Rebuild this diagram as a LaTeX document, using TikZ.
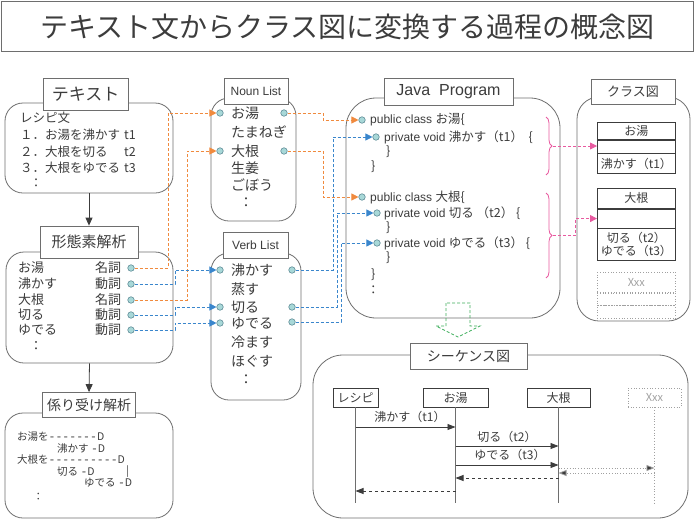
\documentclass[tikz,border=0pt]{standalone}
\usepackage{fontspec}
\setmainfont{Noto Sans CJK JP}
\newfontfamily\latf{Liberation Sans}
\newfontfamily\monof{Liberation Mono}
\usetikzlibrary{arrows.meta,decorations.pathreplacing,calc}
\newcommand\fsz[1]{\fontsize{#1}{#1}\selectfont}
\definecolor{txt}{HTML}{3C3C3C}
\definecolor{edge}{HTML}{6E6E6E}
\definecolor{org}{HTML}{F08A3E}
\definecolor{blu}{HTML}{3A86CC}
\definecolor{pnk}{HTML}{E85AA0}
\definecolor{grn}{HTML}{3DAE5C}
\definecolor{dotf}{HTML}{A8D8D8}
\definecolor{dotd}{HTML}{5E8C96}
\definecolor{lgray}{HTML}{A0A0A0}
\begin{document}
\begin{tikzpicture}[x=1pt,y=-1pt,
  every node/.style={text=txt, inner sep=0pt, font=\fsz{13}},
  rbox/.style={draw=edge, line width=0.8pt, rounded corners=#1, rectangle},
  lbl/.style={draw=edge, line width=0.8pt, fill=white, rectangle},
  dotn/.style={circle, draw=dotd, fill=dotf, line width=0.6pt, minimum size=6.5pt, inner sep=0pt},
  oarr/.style={draw=org, dash pattern=on 3pt off 2pt, line width=0.8pt, -{Triangle[length=7pt,width=7pt]}},
  barr/.style={draw=blu, dash pattern=on 3pt off 2pt, line width=0.8pt, -{Triangle[length=7pt,width=7pt]}},
  parr/.style={draw=pnk, dash pattern=on 3pt off 2pt, line width=0.8pt, -{Triangle[length=7pt,width=7pt]}},
  flow/.style={draw=txt, line width=0.8pt, -{Triangle[length=8pt,width=7pt]}},
  cls/.style={draw=txt, line width=0.7pt, rectangle, minimum width=78pt, font=\fsz{12}},
  clsx/.style={draw=lgray, dotted, line width=0.7pt, rectangle, minimum width=78pt, font=\fsz{11}, text=lgray},
  head/.style={draw=txt, line width=0.7pt, rectangle, minimum height=19pt, font=\fsz{12}},
  msg/.style={draw=txt, line width=0.8pt, -{Triangle[length=8pt,width=6pt]}},
  ret/.style={draw=txt, dashed, line width=0.8pt, -{Triangle[length=8pt,width=6pt]}},
]
\useasboundingbox (0,0) rectangle (696,520);

% title
\node[draw=edge, line width=0.8pt, minimum width=692pt, minimum height=50pt, anchor=north west, font=\fsz{28}] (title) at (1,1) {テキスト文からクラス図に変換する過程の概念図};

% text box
\node[rbox=18pt, minimum width=168pt, minimum height=90pt] (tbox) at (89,148) {};
\node[lbl, minimum width=85pt, minimum height=32pt, font=\fsz{17}] (tlbl) at (85.5,94) {テキスト};
\node[anchor=west, font=\fsz{12.5}] (t0) at (20,118) {レシピ文};
\node[anchor=west, font=\fsz{12.5}] (t1) at (20,135) {１．お湯を沸かす};
\node[anchor=west, font=\fsz{12.5}] (t2) at (20,152) {２．大根を切る};
\node[anchor=west, font=\fsz{12.5}] (t3) at (20,168) {３．大根をゆでる};
\node[anchor=west, font=\fsz{12.5}] (t1t) at (124,135) {t1};
\node[anchor=west, font=\fsz{12.5}] (t2t) at (124,152) {t2};
\node[anchor=west, font=\fsz{12.5}] (t3t) at (124,168) {t3};
\node[font=\fsz{12.5}] (t4) at (36,183) {：};

% morphological analysis
\node[rbox=18pt, minimum width=167pt, minimum height=111pt] (kbox) at (89.5,307.5) {};
\node[lbl, minimum width=98pt, minimum height=32pt, font=\fsz{15}] (klbl) at (89,242) {形態素解析};
\foreach \w/\p/\y/\n in {お湯/名詞/268/1,沸かす/動詞/284/2,大根/名詞/300/3,切る/動詞/315/4,ゆでる/動詞/330/5}{
  \node[anchor=west] (kw\n) at (18,\y) {\w};
  \node[anchor=west] (kp\n) at (95,\y) {\p};
  \node[dotn] (m\n) at (131,\y) {};
}
\node (k6) at (36,346) {：};

\draw[flow] (tbox.south) -- (klbl.north);

% dependency analysis
\node[rbox=18pt, minimum width=168pt, minimum height=105pt] (dbox) at (89,465.5) {};
\node[lbl, minimum width=93pt, minimum height=25pt, font=\fsz{14}] (dlbl) at (89,405) {係り受け解析};
\draw[flow] (kbox.south) -- (dlbl.north);
\begin{scope}[every node/.append style={anchor=west, font=\fsz{10.5}}]
\node (d1) at (17,437) {お湯を{\monof\fsz{11.5}-------}D};
\node (d2) at (57,448.5) {沸かす {\monof\fsz{11.5}-}D};
\node (d3) at (17,460) {大根を{\monof\fsz{11.5}----------}D};
\node (d4) at (57,471.5) {切る {\monof\fsz{11.5}-}D};
\node (d4b) at (126,471.5) {|};
\node (d5) at (84,483) {ゆでる {\monof\fsz{11.5}-}D};
\node (d6) at (33,497) {：};
\end{scope}

% noun list
\node[rbox=18pt, minimum width=85pt, minimum height=123pt] (nbox) at (253.5,159.5) {};
\node[lbl, minimum width=64pt, minimum height=26pt, font=\latf\fsz{12}] (nlbl) at (256,91) {Noun List};
\begin{scope}[every node/.append style={font=\fsz{14}}]
\node[anchor=west] (n1) at (231,113) {お湯};
\node[anchor=west] (n2) at (231,132) {たまねぎ};
\node[anchor=west] (n3) at (231,151) {大根};
\node[anchor=west] (n4) at (231,168) {生姜};
\node[anchor=west] (n5) at (231,185) {ごぼう};
\node (n6) at (246,203) {：};
\end{scope}
\node[dotn] (nl1) at (220,113) {};
\node[dotn] (nl2) at (220,151) {};
\node[dotn] (nr1) at (284,113) {};
\node[dotn] (nr2) at (284,151) {};

% verb list
\node[rbox=18pt, minimum width=90pt, minimum height=147pt] (vbox) at (256,326.5) {};
\node[lbl, minimum width=65pt, minimum height=26pt, font=\latf\fsz{12}] (vlbl) at (255.5,245) {Verb List};
\begin{scope}[every node/.append style={font=\fsz{14}}]
\node[anchor=west] (v1) at (231,270) {沸かす};
\node[anchor=west] (v2) at (231,289) {蒸す};
\node[anchor=west] (v3) at (231,307) {切る};
\node[anchor=west] (v4) at (231,323) {ゆでる};
\node[anchor=west] (v5) at (231,342) {冷ます};
\node[anchor=west] (v6) at (231,361) {ほぐす};
\node (v7) at (246,380) {：};
\end{scope}
\node[dotn] (vl1) at (220,270) {};
\node[dotn] (vl2) at (220,307) {};
\node[dotn] (vl3) at (220,323) {};
\node[dotn] (vr1) at (292,270) {};
\node[dotn] (vr2) at (292,307) {};
\node[dotn] (vr3) at (292,322) {};

% java program
\node[rbox=30pt, minimum width=214pt, minimum height=220pt] (jbox) at (453,208) {};
\node[lbl, minimum width=129pt, minimum height=27pt, font=\latf\fsz{16}] (jlbl) at (448.5,91.5) {Java\ \ Program};
\begin{scope}[every node/.append style={anchor=west, font=\fsz{12.5}}]
\node (j1t) at (370,120) {{\latf\fsz{12}public class }お湯\{};
\node (j2t) at (384,137) {{\latf\fsz{12}private void }沸かす（t1）\ \ \{};
\node (j3t) at (386,152) {\}};
\node (j4t) at (371,167) {\}};
\node (j5t) at (370,197) {{\latf\fsz{12}public class }大根\{};
\node (j6t) at (384,213) {{\latf\fsz{12}private void }切る\ （t2）\ \{};
\node (j7t) at (386,228) {\}};
\node (j8t) at (384,243) {{\latf\fsz{12}private void }ゆでる（t3）\ \{};
\node (j9t) at (386,258) {\}};
\node (j10t) at (371,275) {\}};
\node (j11t) at (367,290) {：};
\end{scope}
\node[dotn] (j1) at (362,120) {};
\node[dotn] (j1m) at (376,137) {};
\node[dotn] (j2) at (362,197) {};
\node[dotn] (j2m) at (377,213) {};
\node[dotn] (j3m) at (377,243) {};

% braces
\draw[pnk, line width=0.8pt, decorate, decoration={brace, amplitude=6pt}] (546,117) -- (546,175);
\draw[pnk, line width=0.8pt, decorate, decoration={brace, amplitude=6pt}] (546,193) -- (546,278);
\coordinate (b1) at (553,146);
\coordinate (b2) at (553,235.5);

% class diagram
\node[rbox=22pt, minimum width=113pt, minimum height=224pt] (cbox) at (633.5,209) {};
\node[lbl, minimum width=84pt, minimum height=25pt, font=\fsz{13}] (clbl) at (633,91.5) {クラス図};
\node[cls, minimum height=17pt, anchor=north west] (c1n) at (597,122) {お湯};
\node[cls, minimum height=13pt, anchor=north] (c1a) at (c1n.south) {};
\node[cls, minimum height=20pt, anchor=north] (c1m) at (c1a.south) {沸かす（t1）};
\node[cls, minimum height=20pt, anchor=north west] (c2n) at (597,188) {大根};
\node[cls, minimum height=19pt, anchor=north] (c2a) at (c2n.south) {};
\node[cls, minimum height=32pt, anchor=north, align=center] (c2m) at (c2a.south) {切る（t2）\\[1pt]ゆでる（t3）};
\node[clsx, minimum height=20pt, anchor=north west] (c3n) at (597,272) {Xxx};
\node[clsx, minimum height=12pt, anchor=north] (c3a) at (c3n.south) {};
\node[clsx, minimum height=13pt, anchor=north] (c3m) at (c3a.south) {};

\draw[parr] (b1) -- (b1 -| c1a.west);
\draw[parr] (b2) -- ++(22,0) |- (c2a.west);

% connectors
\draw[oarr] (m1) -- ++(37,0) |- (nl1);
\draw[oarr] (m3) -- ++(56,0) |- (nl2);
\draw[barr] (m2) -- ++(44,0) |- (vl1);
\draw[barr] (m4) -- ++(44,0) |- (vl2);
\draw[barr] (m5) -- ++(44,0) |- (vl3);
\draw[oarr] (nr1) -- ++(39,0) |- (j1);
\draw[oarr] (nr2) -- ++(39,0) |- (j2);
\draw[barr] (vr1) -- ++(41,0) |- (j1m);
\draw[barr] (vr2) -- ++(45,0) |- (j2m);
\draw[barr] (vr3) -- ++(49,0) |- (j3m);

% green hollow arrow
\draw[grn, dash pattern=on 3pt off 2pt, line width=0.8pt] (446,303) -- (446,326) -- (436,326) -- (458,337) -- (480,326) -- (470,326) -- (470,303) -- cycle;

% sequence diagram
\node[rbox=30pt, minimum width=375pt, minimum height=163pt] (sbox) at (500.5,436.5) {};
\node[lbl, minimum width=117pt, minimum height=26pt, font=\fsz{14}] (slbl) at (468.5,356) {シーケンス図};
\node[head, minimum width=45pt] (hr) at (355.5,397.5) {レシピ};
\node[head, minimum width=65pt] (ho) at (455.5,397.5) {お湯};
\node[head, minimum width=63pt] (hd) at (558.5,397.5) {大根};
\node[draw=lgray, dotted, line width=0.7pt, rectangle, minimum height=19pt, minimum width=53pt, font=\fsz{11}, text=lgray] (hx) at (654.5,397.5) {Xxx};
\coordinate (lend) at (0,503);
\draw[edge, line width=0.8pt] (hr.south) -- (hr |- lend);
\draw[edge, line width=0.8pt] (ho.south) -- (ho |- lend);
\draw[edge, line width=0.8pt] (hd.south) -- (hd |- lend);
\draw[lgray, dotted, line width=0.8pt] (hx.south) -- (hx |- lend);

\coordinate (y1) at (0,427);
\coordinate (y2) at (0,446);
\coordinate (y3) at (0,465);
\coordinate (y4) at (0,468);
\coordinate (y5) at (0,473);
\coordinate (y6) at (0,478);
\coordinate (y7) at (0,491);
\draw[msg] (hr |- y1) -- (ho |- y1);
\draw[msg] (ho |- y2) -- (hd |- y2);
\draw[msg] (ho |- y3) -- (hd |- y3);
\draw[draw=lgray, dotted, line width=0.8pt, -{Triangle[length=8pt,width=6pt,fill=txt]}] (hd |- y4) -- (hx |- y4);
\draw[draw=lgray, dotted, line width=0.8pt, -{Triangle[length=8pt,width=6pt,fill=txt]}] (hx |- y5) -- (hd |- y5);
\draw[ret] (hd |- y6) -- (ho |- y6);
\draw[ret] (ho |- y7) -- (hr |- y7);
\node[font=\fsz{12}] (ms1) at (410,417) {沸かす（t1）};
\node[font=\fsz{12}] (ms2) at (507,437) {切る（t2）};
\node[font=\fsz{12}] (ms3) at (510,455) {ゆでる（t3）};
\end{tikzpicture}
\end{document}
